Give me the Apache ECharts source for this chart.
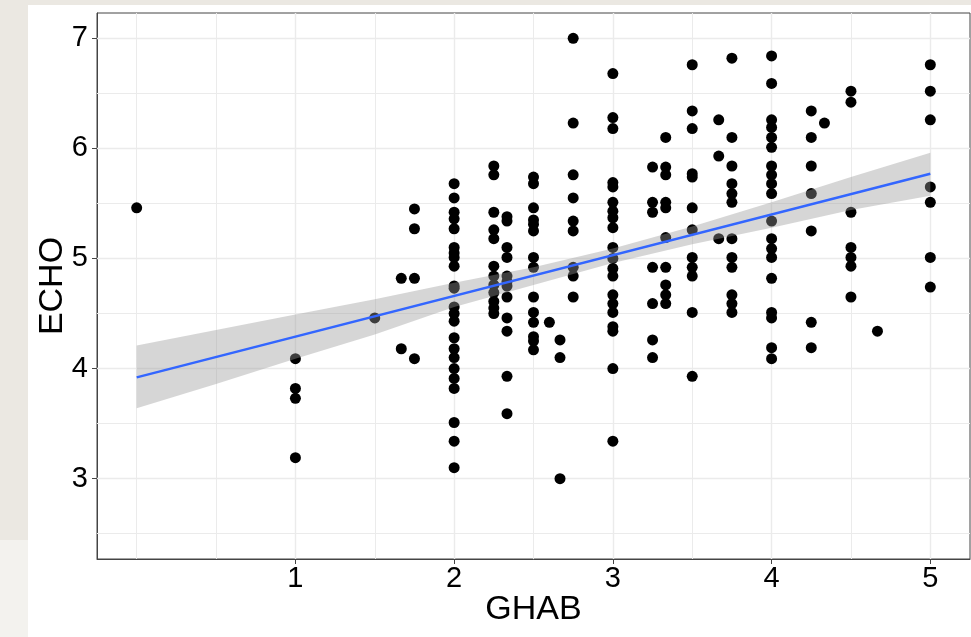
<!DOCTYPE html>
<html>
<head>
<meta charset="utf-8">
<script src="https://cdn.jsdelivr.net/npm/echarts@6/dist/echarts.min.js"></script>
<style>
html, body { margin: 0; padding: 0; }
body { width: 971px; height: 637px; position: relative; overflow: hidden; background: #ebe8e2; }
#paper { position: absolute; left: 28px; top: 5px; right: 0; bottom: 0; background: #fff; }
#lowstrip { position: absolute; left: 0; top: 540px; width: 28px; bottom: 0; background: #f3f2ee; }
#chart { position: absolute; left: 0; top: 0; width: 971px; height: 637px; }
</style>
</head>
<body>
<div id="paper"></div>
<div id="lowstrip"></div>
<div id="chart"></div>
<script>
// GHAB (x) and ECHO (y) of every respondent, read column by column
var ghab = [
  0,
  1, 1, 1, 1,
  1.5,
  1.667, 1.667,
  1.75, 1.75, 1.75, 1.75,
  2, 2, 2, 2, 2, 2, 2, 2, 2, 2, 2, 2, 2, 2, 2, 2, 2, 2, 2, 2, 2, 2, 2,
  2.25, 2.25, 2.25, 2.25, 2.25, 2.25, 2.25, 2.25, 2.25, 2.25, 2.25, 2.25,
  2.333, 2.333, 2.333, 2.333, 2.333, 2.333, 2.333, 2.333, 2.333, 2.333, 2.333, 2.333,
  2.5, 2.5, 2.5, 2.5, 2.5, 2.5, 2.5, 2.5, 2.5, 2.5, 2.5, 2.5, 2.5, 2.5,
  2.6,
  2.667, 2.667, 2.667,
  2.75, 2.75, 2.75, 2.75, 2.75, 2.75, 2.75, 2.75, 2.75,
  3, 3, 3, 3, 3, 3, 3, 3, 3, 3, 3, 3, 3, 3, 3, 3, 3, 3, 3, 3,
  3.25, 3.25, 3.25, 3.25, 3.25, 3.25, 3.25,
  3.333, 3.333, 3.333, 3.333, 3.333, 3.333, 3.333, 3.333, 3.333, 3.333,
  3.5, 3.5, 3.5, 3.5, 3.5, 3.5, 3.5, 3.5, 3.5, 3.5, 3.5, 3.5,
  3.667, 3.667, 3.667,
  3.75, 3.75, 3.75, 3.75, 3.75, 3.75, 3.75, 3.75, 3.75, 3.75, 3.75, 3.75,
  4, 4, 4, 4, 4, 4, 4, 4, 4, 4, 4, 4, 4, 4, 4, 4, 4, 4, 4,
  4.25, 4.25, 4.25, 4.25, 4.25, 4.25, 4.25,
  4.333,
  4.5, 4.5, 4.5, 4.5, 4.5, 4.5, 4.5,
  4.667,
  5, 5, 5, 5, 5, 5, 5
];
var echo = [
  5.46,
  4.09, 3.82, 3.73, 3.19,
  4.46,
  4.82, 4.18,
  5.45, 5.27, 4.82, 4.09,
  5.68, 5.55, 5.42, 5.36, 5.27, 5.10, 5.05, 5.01, 4.93, 4.75, 4.56, 4.50, 4.43, 4.28, 4.18, 4.10, 4.00, 3.91, 3.82, 3.51, 3.34, 3.10, 4.73,
  5.84, 5.76, 5.42, 5.26, 5.18, 4.93, 4.84, 4.76, 4.69, 4.61, 4.55, 4.50,
  5.38, 5.34, 5.10, 5.01, 4.84, 4.79, 4.75, 4.65, 4.46, 4.34, 3.93, 3.59,
  5.74, 5.68, 5.46, 5.35, 5.31, 5.25, 5.01, 4.92, 4.65, 4.51, 4.42, 4.29, 4.25, 4.17,
  4.42,
  4.26, 4.10, 3.00,
  7.00, 6.23, 5.76, 5.55, 5.34, 5.25, 4.92, 4.84, 4.65,
  6.68, 6.28, 6.18, 5.69, 5.65, 5.51, 5.43, 5.37, 5.28, 5.10, 5.00, 4.91, 4.84, 4.67, 4.59, 4.51, 4.38, 4.34, 4.00, 3.34,
  5.83, 5.51, 5.42, 4.92, 4.59, 4.26, 4.10,
  6.10, 5.83, 5.76, 5.51, 5.46, 5.19, 4.92, 4.76, 4.67, 4.59,
  6.76, 6.34, 6.18, 5.77, 5.74, 5.46, 5.26, 5.01, 4.92, 4.84, 4.51, 3.93,
  6.26, 5.93, 5.18,
  6.82, 6.10, 5.84, 5.68, 5.59, 5.51, 5.18, 5.01, 4.92, 4.67, 4.59, 4.51,
  6.84, 6.59, 6.26, 6.19, 6.10, 6.01, 5.84, 5.76, 5.68, 5.59, 5.34, 5.18, 5.09, 5.01, 4.82, 4.51, 4.46, 4.19, 4.09,
  6.34, 6.10, 5.84, 5.59, 5.25, 4.42, 4.19,
  6.23,
  6.52, 6.42, 5.42, 5.10, 5.01, 4.93, 4.65,
  4.34,
  6.76, 6.52, 6.26, 5.65, 5.51, 5.01, 4.74
];

// linear fit and its confidence band
var fitX = [0, 5];
var fitY = [3.92, 5.77];
var bandX = [0, 0.5, 1, 1.5, 2, 2.5, 3, 3.5, 4, 4.5, 5];
var bandHi = [4.21, 4.35, 4.49, 4.63, 4.78, 4.92, 5.09, 5.29, 5.51, 5.74, 5.96];
var bandLo = [3.64, 3.86, 4.09, 4.31, 4.56, 4.76, 4.96, 5.13, 5.28, 5.44, 5.57];

// axis breaks
var xTicks = [1, 2, 3, 4, 5];
var yTicks = [3, 4, 5, 6, 7];
var xMinor = [0, 0.5, 1.5, 2.5, 3.5, 4.5];
var yMinor = [2.5, 3.5, 4.5, 5.5, 6.5];

var chart = echarts.init(document.getElementById('chart'));

var points = ghab.map(function (x, i) { return [x, echo[i]]; });
var fitLine = fitX.map(function (x, i) { return [x, fitY[i]]; });

var gridLines = [];
xTicks.forEach(function (v) { gridLines.push({ xAxis: v, lineStyle: { width: 1.4 } }); });
xMinor.forEach(function (v) { gridLines.push({ xAxis: v, lineStyle: { width: 1 } }); });
yTicks.forEach(function (v) { gridLines.push({ yAxis: v, lineStyle: { width: 1.4 } }); });
yMinor.forEach(function (v) { gridLines.push({ yAxis: v, lineStyle: { width: 1 } }); });

var font = 'Liberation Sans, Arial, sans-serif';

var option = {
  animation: false,
  backgroundColor: 'transparent',
  grid: {
    left: 97, right: 1, top: 13, bottom: 78,
    show: true, borderColor: '#444', borderWidth: 1, backgroundColor: 'transparent'
  },
  xAxis: {
    type: 'value', min: -0.25, max: 5.25,
    name: 'GHAB', nameLocation: 'middle', nameGap: 34, nameMoveOverlap: false,
    nameTextStyle: { fontFamily: font, fontSize: 34, color: '#000' },
    axisLine: { show: true, onZero: false, lineStyle: { color: '#444' } },
    axisTick: { show: true, length: 5, customValues: xTicks, lineStyle: { color: '#444' } },
    axisLabel: { customValues: xTicks, margin: 5, fontFamily: font, fontSize: 29, color: '#000' },
    splitLine: { show: false }
  },
  yAxis: {
    type: 'value', min: 2.27, max: 7.23,
    name: 'ECHO', nameLocation: 'middle', nameGap: 27, nameMoveOverlap: false,
    nameTextStyle: { fontFamily: font, fontSize: 34, color: '#000' },
    axisLine: { show: true, onZero: false, lineStyle: { color: '#444' } },
    axisTick: { show: true, length: 5, customValues: yTicks, lineStyle: { color: '#444' } },
    axisLabel: { customValues: yTicks, margin: 9, fontFamily: font, fontSize: 29, color: '#000' },
    splitLine: { show: false }
  },
  series: [
    {
      type: 'scatter',
      z: 2,
      data: points,
      symbol: 'circle',
      symbolSize: 11,
      itemStyle: { color: '#000', opacity: 1 },
      markLine: {
        silent: true, symbol: 'none', z: 1,
        label: { show: false },
        emphasis: { disabled: true },
        lineStyle: { color: '#ebebeb', type: 'solid' },
        data: gridLines
      }
    },
    {
      type: 'custom',
      z: 3,
      silent: true,
      data: [[0, 0]],
      renderItem: function (params, api) {
        var pts = [];
        for (var i = 0; i < bandX.length; i++) pts.push(api.coord([bandX[i], bandHi[i]]));
        for (var j = bandX.length - 1; j >= 0; j--) pts.push(api.coord([bandX[j], bandLo[j]]));
        return {
          type: 'polygon',
          shape: { points: pts },
          style: { fill: 'rgba(153,153,153,0.4)' }
        };
      }
    },
    {
      type: 'line',
      z: 4,
      data: fitLine,
      symbol: 'none',
      silent: true,
      lineStyle: { color: '#3366ff', width: 2.4 }
    }
  ]
};

chart.setOption(option);
</script>
</body>
</html>
